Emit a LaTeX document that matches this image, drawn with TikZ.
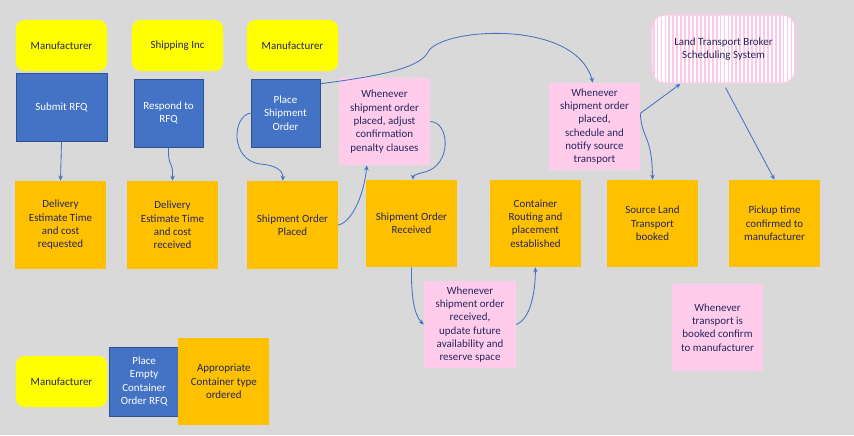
\documentclass[tikz,border=0pt]{standalone}
\usepackage{fontspec}
\setmainfont{Carlito}
\usepackage{tikz}
\usetikzlibrary{arrows.meta,positioning,patterns.meta}
\definecolor{bgray}{HTML}{D9D9D9}
\definecolor{ylw}{HTML}{FFFF00}
\definecolor{taskblue}{HTML}{4472C4}
\definecolor{taskedge}{HTML}{2F528F}
\definecolor{amber}{HTML}{FFC000}
\definecolor{rosy}{HTML}{FFCCEB}
\definecolor{stripe}{HTML}{FFC8E6}
\definecolor{ink}{HTML}{26265E}
\tikzset{
  actor/.style={rectangle,rounded corners=6pt,fill=ylw,text=ink,
    minimum width=2.275cm,minimum height=1.275cm,inner sep=0pt,align=center},
  task/.style={rectangle,draw=taskedge,line width=0.5pt,fill=taskblue,text=white,
    minimum width=1.725cm,minimum height=1.7cm,inner sep=0pt,align=center},
  outcome/.style={rectangle,fill=amber,text=ink,
    minimum width=2.275cm,minimum height=2.175cm,inner sep=0pt,align=center},
  trigger/.style={rectangle,fill=rosy,text=ink,
    minimum width=2.275cm,minimum height=2.175cm,inner sep=0pt,align=center},
  system/.style={rectangle,rounded corners=9pt,draw=stripe,line width=0.8pt,
    preaction={fill=white},pattern={Lines[angle=90,distance=2.8pt,line width=1.3pt]},
    pattern color=stripe,text=ink,
    minimum width=3.575cm,minimum height=1.7cm,inner sep=0pt,align=center},
  conn/.style={-{Stealth[length=3.6pt,width=3.2pt]},draw=taskblue,line width=0.6pt}
}

\begin{document}
\begin{tikzpicture}[x=0.025cm,y=-0.025cm,font=\fontsize{7.8}{9.5}\selectfont]
  \fill[bgray] (0,0) rectangle (854,435);
  \useasboundingbox (0,0) rectangle (854,435);

  % who does it
  \node[actor] (man1) at (61.5,45.5)  {Manufacturer};
  \node[actor] (ship) at (177.5,45.5) {Shipping Inc};
  \node[actor] (man2) at (292.5,45.5) {Manufacturer};
  \node[actor] (man3) at (61.5,381.5) {Manufacturer};

  % actions
  \node[task,minimum width=2.275cm,below=0.05cm of man1] (submit) {Submit RFQ};
  \node[task] (respond) at (168.5,113) {Respond to\\RFQ};
  \node[task] (place)   at (285.5,113) {Place\\Shipment\\Order};
  \node[task,right=0.05cm of man3,minimum height=1.725cm] (empty) {Place\\Empty\\Container\\Order RFQ};

  % results
  \node[outcome,minimum height=2.2cm] (dreq)  at (60.5,225)  {Delivery\\Estimate Time\\and cost\\requested};
  \node[outcome,minimum height=2.2cm] (drec)  at (172.5,225) {Delivery\\Estimate Time\\and cost\\received};
  \node[outcome,minimum height=2.2cm] (placed) at (292.5,225) {Shipment Order\\Placed};
  \node[outcome] (received) at (411.5,223.5) {Shipment Order\\Received};
  \node[outcome] (routing)  at (535.5,223.5) {Container\\Routing and\\placement\\established};
  \node[outcome] (source)   at (652.5,223.5) {Source Land\\Transport\\booked};
  \node[outcome] (pickup)   at (774.5,223.5) {Pickup time\\confirmed to\\manufacturer};
  \node[outcome,right=-0.025cm of empty] (approp) {Appropriate\\Container type\\ordered};

  % rules
  \node[trigger] (adjust)  at (384.5,121.5) {Whenever\\shipment order\\placed, adjust\\confirmation\\penalty clauses};
  \node[trigger] (notify)  at (594.5,126.5) {Whenever\\shipment order\\placed,\\schedule and\\notify source\\transport};
  \node[trigger,minimum width=2.3cm] (update) at (470,324.5) {Whenever\\shipment order\\received,\\update future\\availability and\\reserve space};
  \node[trigger] (confirm) at (717.5,327.5) {Whenever\\transport is\\booked confirm\\to manufacturer};

  \node[system] (broker) at (723.5,49) {Land Transport Broker\\Scheduling System};

  \draw[conn] (submit.south) -- (dreq.north);
  \draw[conn] (respond.south) .. controls (168,170) and (173,158) .. (drec.north);
  \draw[conn] (place.west) .. controls (232,116) and (230,160) .. (260,164)
              .. controls (275,165) and (283,170) .. ([xshift=-0.24cm]placed.north);
  \draw[conn] (placed.east) .. controls (352,222) and (364,195) .. (adjust.248);
  \draw[conn] (adjust.east) .. controls (450,122) and (452,165) .. (425,172)
              .. controls (416,174) and (413,176) .. ([xshift=0.04cm]received.north);
  \draw[conn] (place.40) .. controls (380,76) and (420,68) .. (428,52)
              .. controls (440,28) and (575,18) .. ([xshift=-0.04cm]notify.north);
  \draw[conn] (notify.16) -- (broker.219);
  \draw[conn] (notify.16) .. controls (642,140) and (652,135) .. (source.north);
  \draw[conn,shorten <=3pt] (broker.south) -- (pickup.north);
  \draw[conn] (received.south) .. controls (411,295) and (414,315) .. (update.west);
  \draw[conn] (update.east) .. controls (528,320) and (535,300) .. (routing.south);
\end{tikzpicture}
\end{document}
